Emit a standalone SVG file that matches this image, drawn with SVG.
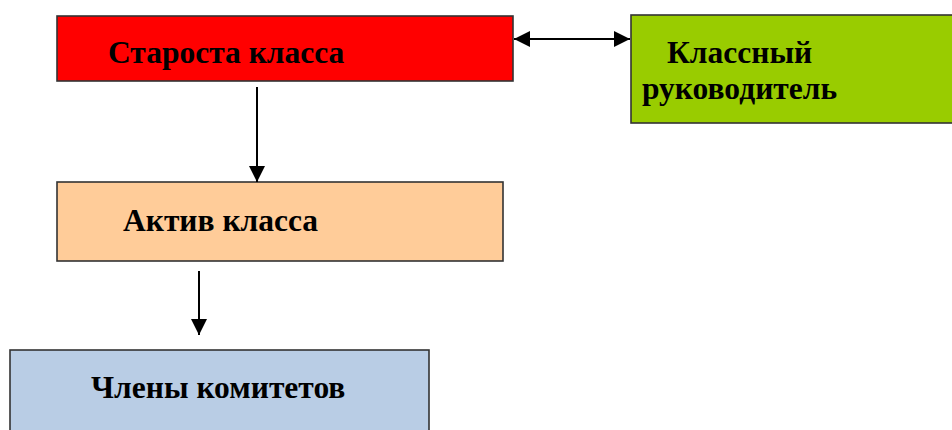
<svg xmlns="http://www.w3.org/2000/svg" width="952" height="430" viewBox="0 0 952 430">
<defs>
<style>
.box{stroke:#333;stroke-width:1.6}
.lbl{font-family:"Liberation Serif","Times New Roman",serif;font-weight:bold;font-size:31.5px;fill:#000}
.con{stroke:#000;stroke-width:2;fill:none}
</style>
<marker id="ah" viewBox="0 0 16 16" refX="16" refY="8" markerWidth="16" markerHeight="16" markerUnits="userSpaceOnUse" orient="auto-start-reverse">
<path d="M0,0 L16,8 L0,16 Z" fill="#000"/>
</marker>
</defs>
<rect width="952" height="430" fill="#fff"/>
<g id="node-starosta">
<rect class="box" x="57" y="16" width="456" height="65" fill="#FF0000"/>
<text class="lbl" x="108" y="63">Староста класса</text>
</g>
<g id="node-klassny">
<rect class="box" x="631" y="15" width="330" height="108" fill="#99CC00"/>
<text class="lbl" x="667" y="63">Классный</text>
<text class="lbl" x="642" y="99">руководитель</text>
</g>
<g id="node-aktiv">
<rect class="box" x="57" y="182" width="446" height="79" fill="#FFCC99"/>
<text class="lbl" x="123" y="231">Актив класса</text>
</g>
<g id="node-chleny">
<rect class="box" x="10" y="350" width="419" height="90" fill="#B9CDE5"/>
<text class="lbl" x="91" y="398">Члены комитетов</text>
</g>
<g id="connectors">
<line class="con" x1="514" y1="39" x2="630" y2="39" marker-start="url(#ah)" marker-end="url(#ah)"/>
<line class="con" x1="257" y1="87" x2="257" y2="182" marker-end="url(#ah)"/>
<line class="con" x1="199" y1="271" x2="199" y2="335" marker-end="url(#ah)"/>
</g>
</svg>
